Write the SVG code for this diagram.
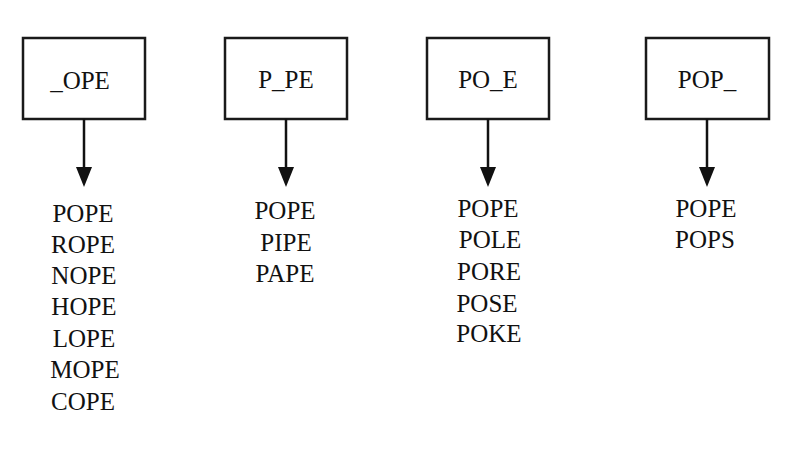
<svg xmlns="http://www.w3.org/2000/svg" width="804" height="456" viewBox="0 0 804 456">
<style>
.box{fill:#fff;stroke:#1a1a1a;stroke-width:2.5}
.lbl{font-family:"Liberation Serif",serif;font-size:25px;fill:#111;text-anchor:middle}
.edge{stroke:#111;stroke-width:2.5;fill:none}
</style>
<defs>
<marker id="ah" markerUnits="userSpaceOnUse" markerWidth="18" markerHeight="22" refX="8" refY="20" orient="auto-start-reverse" viewBox="0 0 16 22">
<path d="M0,0 L16,0 L8,20 Z" fill="#111"/>
</marker>
</defs>
<rect width="804" height="456" fill="#fff"/>
<g id="n1">
<rect class="box" x="23" y="38" width="122" height="81"/>
<text class="lbl" x="80" y="89">_OPE</text>
</g>
<g id="n2">
<rect class="box" x="225" y="38" width="122" height="81"/>
<text class="lbl" x="286" y="88">P_PE</text>
</g>
<g id="n3">
<rect class="box" x="427" y="38" width="122" height="81"/>
<text class="lbl" x="488" y="88">PO_E</text>
</g>
<g id="n4">
<rect class="box" x="646" y="38" width="123" height="81"/>
<text class="lbl" x="707" y="88">POP_</text>
</g>
<g id="connectors">
<path class="edge" d="M84,119 V170"/>
<path d="M76,167 L92,167 L84,187 Z" fill="#111"/>
<path class="edge" d="M286,119 V170"/>
<path d="M278,167 L294,167 L286,187 Z" fill="#111"/>
<path class="edge" d="M488,119 V170"/>
<path d="M480,167 L496,167 L488,187 Z" fill="#111"/>
<path class="edge" d="M707,119 V170"/>
<path d="M699,167 L715,167 L707,187 Z" fill="#111"/>
</g>
<g id="list1">
<text class="lbl" x="83" y="222">POPE</text>
<text class="lbl" x="83" y="253">ROPE</text>
<text class="lbl" x="84" y="284">NOPE</text>
<text class="lbl" x="84" y="315">HOPE</text>
<text class="lbl" x="84" y="347">LOPE</text>
<text class="lbl" x="85" y="378">MOPE</text>
<text class="lbl" x="83" y="410">COPE</text>
</g>
<g id="list2">
<text class="lbl" x="285" y="219">POPE</text>
<text class="lbl" x="286" y="251">PIPE</text>
<text class="lbl" x="285" y="282">PAPE</text>
</g>
<g id="list3">
<text class="lbl" x="488" y="217">POPE</text>
<text class="lbl" x="490" y="248">POLE</text>
<text class="lbl" x="489" y="280">PORE</text>
<text class="lbl" x="487" y="312">POSE</text>
<text class="lbl" x="489" y="342">POKE</text>
</g>
<g id="list4">
<text class="lbl" x="706" y="217">POPE</text>
<text class="lbl" x="705" y="248">POPS</text>
</g>
</svg>
